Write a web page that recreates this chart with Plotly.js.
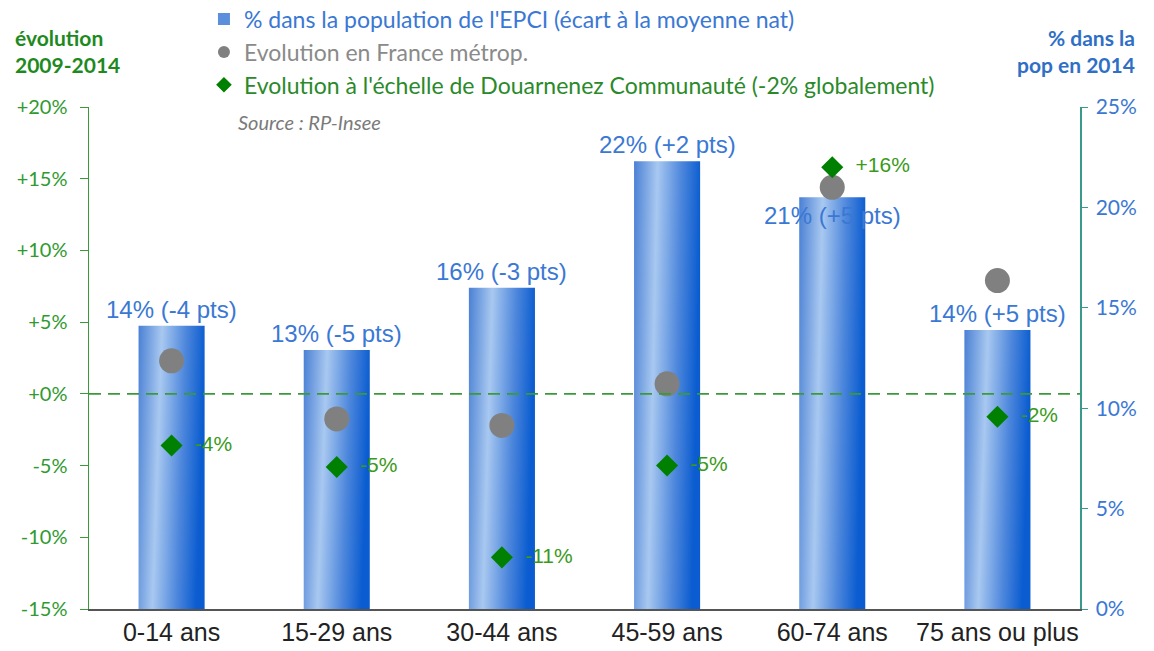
<!DOCTYPE html>
<html><head><meta charset="utf-8">
<script src="https://cdn.plot.ly/plotly-3.0.1.min.js"></script>
<style>html,body{margin:0;padding:0;background:#fff}#chart{width:1154px;height:651px}</style>
</head><body><div id="chart"></div>
<script>
const categories = ["0-14 ans","15-29 ans","30-44 ans","45-59 ans","60-74 ans","75 ans ou plus"];
const popShare2014 = [14.1, 12.9, 16.0, 22.3, 20.5, 13.9];
const popLabels = ["14% (-4 pts)","13% (-5 pts)","16% (-3 pts)","22% (+2 pts)","21% (+5 pts)","14% (+5 pts)"];
const evolFrance = [2.3, -1.75, -2.2, 0.7, 14.4, 7.9];
const evolDouarnenez = [-3.6, -5.1, -11.4, -5.0, 15.8, -1.6];
const evolDouarnenezLabels = ["-4%","-5%","-11%","-5%","+16%","-2%"];
const leftTickVals = [-15,-10,-5,0,5,10,15,20];
const leftTickText = ["-15%","-10%","-5%","+0%","+5%","+10%","+15%","+20%"];
const rightTickVals = [0,5,10,15,20,25];
const rightTickText = ["0%","5%","10%","15%","20%","25%"];

const blue = "#3a78d4", darkGreen = "#008000", gray = "#808080";
const calibri = "Lato, 'Open Sans', sans-serif";
const arial = "'Liberation Sans', Arial, sans-serif";
const pad = "\u00a0\u00a0";

const traces = [
  {type:"bar", x:categories, y:popShare2014, yaxis:"y", width:0.4,
   marker:{color:"#5b8fdc"}, hoverinfo:"skip",
   name:'<span style="color:#3a78d4">% dans la population de l\'EPCI (écart à la moyenne nat)</span>'},
  {type:"scatter", mode:"markers", x:categories, y:evolFrance, yaxis:"y2",
   marker:{color:gray, size:25, symbol:"circle"}, hoverinfo:"skip",
   name:'<span style="color:#8a8a8a">Evolution en France métrop.</span>'},
  {type:"scatter", mode:"markers+text", x:categories, y:evolDouarnenez, yaxis:"y2",
   marker:{color:darkGreen, size:17, symbol:"diamond"},
   text:evolDouarnenezLabels.map(t=>pad+t), textposition:"middle right",
   textfont:{family:arial, size:21, color:"#3a9a1a"}, hoverinfo:"skip",
   name:'<span style="color:#2a8a2a">Evolution à l\'échelle de Douarnenez Communauté (-2% globalement)</span>'}
];

const annotations = categories.map((c,i)=>({
  x:c, y:popShare2014[i], xref:"x", yref:"y",
  text:popLabels[i], showarrow:false,
  yanchor: i===4 ? "middle" : "bottom", yshift: i===4 ? -18 : 1,
  font:{family:arial, size:24, color:blue}
}));
annotations.push(
  {xref:"paper", yref:"paper", x:-0.077, y:1.055, xanchor:"left", yanchor:"bottom", align:"left", showarrow:false,
   text:"<b>évolution<br>2009-2014</b>", font:{family:calibri, size:21, color:"#1e8a1e"}},
  {xref:"paper", yref:"paper", x:1.058, y:1.055, xanchor:"right", yanchor:"bottom", align:"right", showarrow:false,
   text:"<b>% dans la<br>pop en 2014</b>", font:{family:calibri, size:21, color:"#2f6fc6"}},
  {xref:"paper", yref:"paper", x:0.148, y:0.97, xanchor:"left", yanchor:"middle", showarrow:false,
   text:"<i>Source : RP-Insee</i>", font:{family:calibri, size:20, color:"#7a7a7a"}}
);

const layout = {
  width:1154, height:651,
  margin:{l:89, r:74, t:107, b:42, autoexpand:false},
  paper_bgcolor:"#fff", plot_bgcolor:"#fff",
  showlegend:true,
  legend:{x:0.116, y:1.218, xanchor:"left", yanchor:"top", bgcolor:"rgba(0,0,0,0)",
          font:{family:calibri, size:23}, itemsizing:"constant", itemwidth:30, traceorder:"normal"},
  xaxis:{type:"category", showgrid:false, zeroline:false, showline:true, linecolor:"#555", linewidth:1.5,
         ticks:"", tickfont:{family:arial, size:25, color:"#222"}, fixedrange:true, automargin:false},
  yaxis:{range:[0,25], side:"right", tickvals:rightTickVals, ticktext:rightTickText,
         showgrid:false, zeroline:false, showline:true, linecolor:"#3a9a8a", linewidth:1.5,
         ticks:"outside", ticklen:6, tickcolor:"#3a9a8a", ticklabelstandoff:4, automargin:false,
         tickfont:{family:calibri, size:21, color:"#3a78d4"}},
  yaxis2:{range:[-15,20], side:"left", overlaying:"y", tickvals:leftTickVals, ticktext:leftTickText,
          showgrid:false, zeroline:false, showline:true, linecolor:"#3a9a3a", linewidth:1.5,
          ticks:"outside", ticklen:8, tickcolor:"#3a9a3a", ticklabelstandoff:8, automargin:false,
          tickfont:{family:calibri, size:20, color:"#2f9a2f"}},
  shapes:[{type:"line", xref:"paper", x0:0, x1:1, yref:"y2", y0:0, y1:0,
           line:{color:"#3a9a3a", width:1.6, dash:"12px,7px"}}],
  annotations:annotations
};

Plotly.newPlot("chart", traces, layout, {displayModeBar:false, staticPlot:true}).then(gd=>{
  const svg = gd.querySelector("svg.main-svg");
  const ns = "http://www.w3.org/2000/svg";
  let defs = svg.querySelector("defs");
  const grad = document.createElementNS(ns, "linearGradient");
  grad.setAttribute("id","barGrad");
  grad.setAttribute("x1","0"); grad.setAttribute("y1","0");
  grad.setAttribute("x2","1"); grad.setAttribute("y2","0.15");
  [["0","#4a80d4"],["0.35","#a8c8f0"],["0.7","#4f88dc"],["1","#0a5cd0"]].forEach(([o,c])=>{
    const s = document.createElementNS(ns,"stop"); s.setAttribute("offset",o); s.setAttribute("stop-color",c); grad.appendChild(s);
  });
  defs.appendChild(grad);
  gd.querySelectorAll(".barlayer .point path").forEach(p=>{p.style.fill="url(#barGrad)";});
  gd.querySelectorAll(".legend .legendbar path, .legend .legendpoints .legendbar").forEach(p=>{p.style.fill="url(#barGrad)";});
});
</script></body></html>
